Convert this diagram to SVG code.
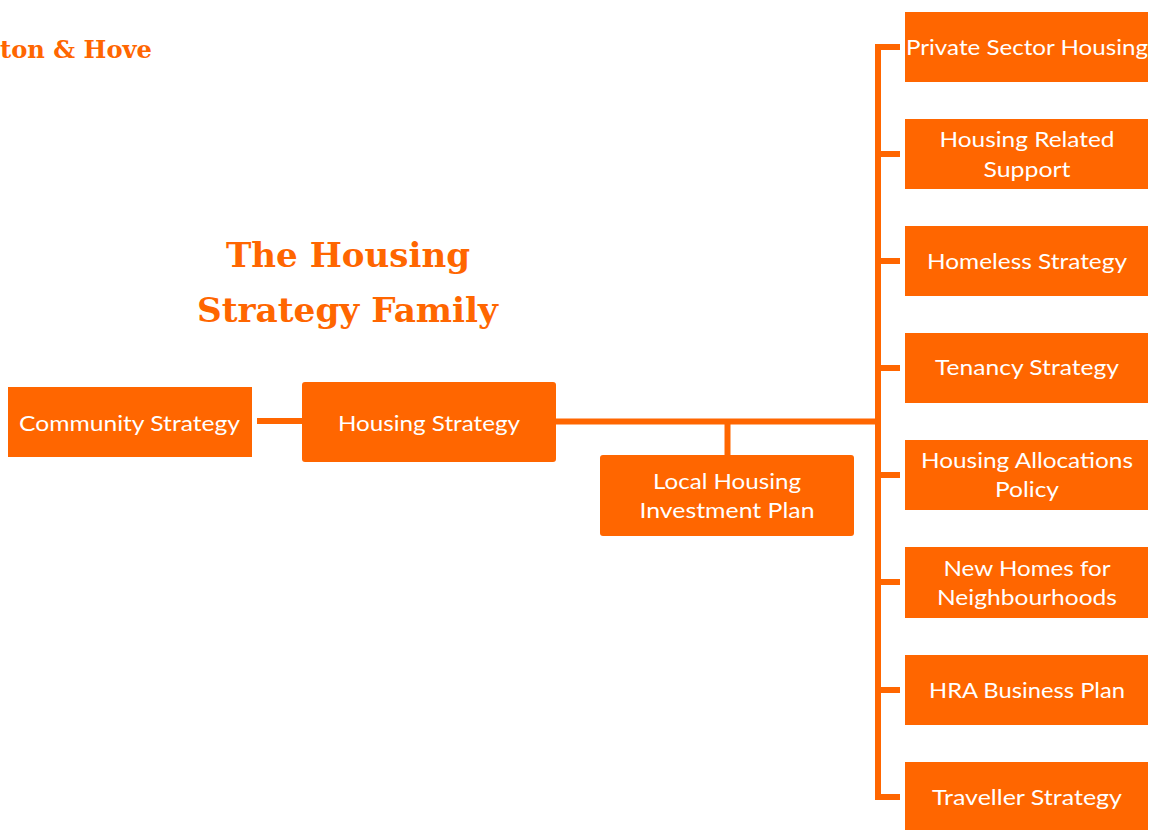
<svg xmlns="http://www.w3.org/2000/svg" width="1152" height="830" viewBox="0 0 1152 830">
<style>
.box{fill:#FF6600}
.lbl{font-family:Lato,"Noto Sans","Liberation Sans",sans-serif;font-size:22px;fill:#FFFFFF;text-anchor:middle}
.conn{stroke:#FF6600;stroke-width:6;fill:none;stroke-linecap:butt;stroke-linejoin:miter}
.ttl{font-family:"DejaVu Serif","Liberation Serif",serif;font-weight:bold;fill:#FF6600}
</style>
<rect width="1152" height="830" fill="#FFFFFF"/>
<g id="header">
<text class="ttl" x="0" y="58" font-size="25" textLength="152" lengthAdjust="spacingAndGlyphs">ton &amp; Hove</text>
</g>
<g id="title">
<text class="ttl" x="348" y="267" font-size="34" text-anchor="middle" textLength="244" lengthAdjust="spacingAndGlyphs">The Housing</text>
<text class="ttl" x="347.5" y="322" font-size="34" text-anchor="middle" textLength="301" lengthAdjust="spacingAndGlyphs">Strategy Family</text>
</g>
<g id="connectors">
<path class="conn" d="M257,421 H302"/>
<path class="conn" d="M556,421.5 H878"/>
<path class="conn" d="M727.5,421.5 V455"/>
<path class="conn" d="M900,47 H878 V797 H900"/>
<path class="conn" d="M878,154 H900 M878,261 H900 M878,368 H900 M878,475 H900 M878,582 H900 M878,690 H900"/>
</g>
<g id="community-strategy">
<rect class="box" x="8" y="387" width="244" height="70"/>
<text class="lbl" x="129.5" y="431" textLength="221" lengthAdjust="spacingAndGlyphs">Community Strategy</text>
</g>
<g id="housing-strategy">
<rect class="box" x="302" y="382" width="254" height="80" rx="3"/>
<text class="lbl" x="429" y="431" textLength="182" lengthAdjust="spacingAndGlyphs">Housing Strategy</text>
</g>
<g id="local-housing-investment-plan">
<rect class="box" x="600" y="455" width="254" height="81" rx="3"/>
<text class="lbl" x="727" y="489" textLength="148" lengthAdjust="spacingAndGlyphs">Local Housing</text>
<text class="lbl" x="727" y="518" textLength="175" lengthAdjust="spacingAndGlyphs">Investment Plan</text>
</g>
<g id="private-sector-housing">
<rect class="box" x="905" y="12" width="243" height="70"/>
<text class="lbl" x="1027" y="55" textLength="242" lengthAdjust="spacingAndGlyphs">Private Sector Housing</text>
</g>
<g id="housing-related-support">
<rect class="box" x="905" y="119" width="243" height="70"/>
<text class="lbl" x="1027" y="147" textLength="175" lengthAdjust="spacingAndGlyphs">Housing Related</text>
<text class="lbl" x="1027" y="177" textLength="87" lengthAdjust="spacingAndGlyphs">Support</text>
</g>
<g id="homeless-strategy">
<rect class="box" x="905" y="226" width="243" height="70"/>
<text class="lbl" x="1027" y="269" textLength="200" lengthAdjust="spacingAndGlyphs">Homeless Strategy</text>
</g>
<g id="tenancy-strategy">
<rect class="box" x="905" y="333" width="243" height="70"/>
<text class="lbl" x="1027" y="375" textLength="184" lengthAdjust="spacingAndGlyphs">Tenancy Strategy</text>
</g>
<g id="housing-allocations-policy">
<rect class="box" x="905" y="440" width="243" height="70"/>
<text class="lbl" x="1027" y="468" textLength="212" lengthAdjust="spacingAndGlyphs">Housing Allocations</text>
<text class="lbl" x="1027" y="497" textLength="64" lengthAdjust="spacingAndGlyphs">Policy</text>
</g>
<g id="new-homes-for-neighbourhoods">
<rect class="box" x="905" y="547" width="243" height="71"/>
<text class="lbl" x="1027" y="576" textLength="167" lengthAdjust="spacingAndGlyphs">New Homes for</text>
<text class="lbl" x="1027" y="605" textLength="180" lengthAdjust="spacingAndGlyphs">Neighbourhoods</text>
</g>
<g id="hra-business-plan">
<rect class="box" x="905" y="655" width="243" height="70"/>
<text class="lbl" x="1027" y="698" textLength="196" lengthAdjust="spacingAndGlyphs">HRA Business Plan</text>
</g>
<g id="traveller-strategy">
<rect class="box" x="905" y="762" width="243" height="70"/>
<text class="lbl" x="1027" y="805" textLength="190" lengthAdjust="spacingAndGlyphs">Traveller Strategy</text>
</g>
</svg>
